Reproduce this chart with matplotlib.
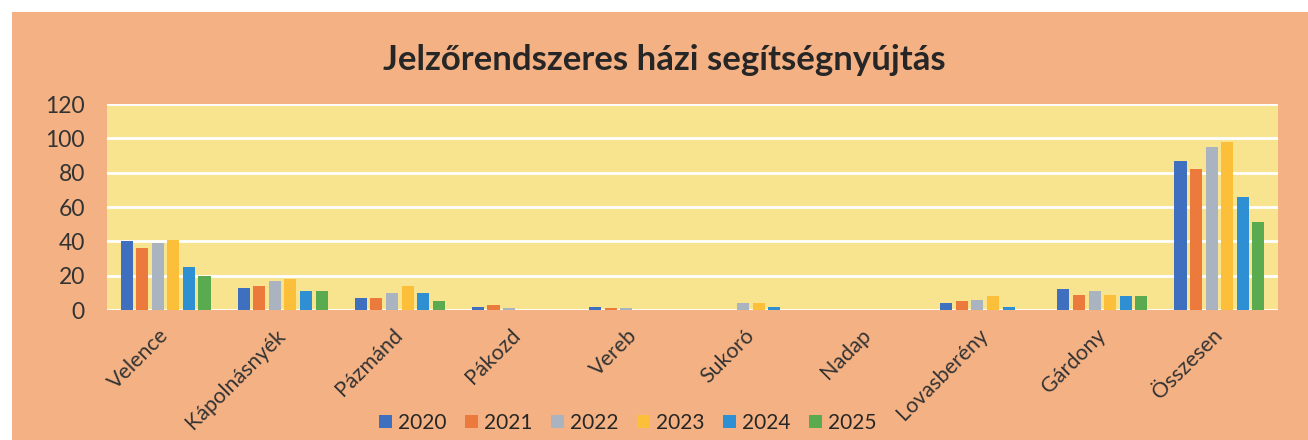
import numpy as np
import matplotlib.pyplot as plt
from matplotlib.patches import Rectangle

telepulesek = ['Velence', 'Kápolnásnyék', 'Pázmánd', 'Pákozd', 'Vereb',
               'Sukoró', 'Nadap', 'Lovasberény', 'Gárdony', 'Összesen']
evek = ['2020', '2021', '2022', '2023', '2024', '2025']

ev_2020 = [40, 13, 7, 2, 2, 0, 0, 4, 12, 87]
ev_2021 = [36, 14, 7, 3, 1, 0, 0, 5, 9, 82]
ev_2022 = [39, 17, 10, 1, 1, 4, 0, 6, 11, 95]
ev_2023 = [41, 18, 14, 0, 0, 4, 0, 8, 9, 98]
ev_2024 = [25, 11, 10, 0, 0, 2, 0, 2, 8, 66]
ev_2025 = [20, 11, 5, 0, 0, 0, 0, 0, 8, 51]

szinek = ['#3f6fbf', '#ec7a3c', '#aab3c0', '#fbbf3a', '#2f8fd3', '#5aab4f']

plt.rcParams['font.family'] = ['Lato', 'DejaVu Sans']

fig = plt.figure(figsize=(13.08, 4.40), dpi=100, facecolor='white')
fig.patches.append(Rectangle((12 / 1308, 0), 1 - 12 / 1308, 1 - 12 / 440,
                             transform=fig.transFigure, facecolor='#f4b284',
                             edgecolor='none', zorder=-10))

ax = fig.add_axes([107 / 1308, 1 - 310 / 440, (1278 - 107) / 1308, (310 - 104) / 440])
ax.set_facecolor('#f8e48e')

x = np.arange(len(telepulesek))
sorok = [ev_2020, ev_2021, ev_2022, ev_2023, ev_2024, ev_2025]
for i, (ev, ertekek) in enumerate(zip(evek, sorok)):
    ax.bar(x + (i - 2.5) * 0.133, ertekek, width=0.103, color=szinek[i], label=ev, zorder=3)

ax.set_xlim(-0.5, len(telepulesek) - 0.5)
ax.set_ylim(0, 120)
ax.set_yticks(range(0, 121, 20))
ax.grid(axis='y', color='white', linewidth=2, zorder=1)
ax.set_axisbelow(True)
for s in ax.spines.values():
    s.set_visible(False)

ax.tick_params(axis='y', length=0, pad=16, labelsize=16.5, labelcolor='#333333')
ax.tick_params(axis='x', length=0, pad=16, labelsize=15.5, labelcolor='#333333')
ax.set_xticks(x)
ax.set_xticklabels(telepulesek, rotation=45, ha='right', va='center', rotation_mode='anchor')

fig.text(0.508, 1 - 60 / 440, 'Jelzőrendszeres házi segítségnyújtás', ha='center', va='center',
         fontsize=25, fontweight='bold', color='#262626')

fig.legend(loc='center', bbox_to_anchor=(628 / 1308, 1 - 423 / 440), ncol=6, frameon=False,
           fontsize=15, handlelength=0.6, handleheight=0.6, handletextpad=0.3,
           columnspacing=0.9, labelcolor='#262626')

fig.savefig('out.png', dpi=100, facecolor=fig.get_facecolor())
